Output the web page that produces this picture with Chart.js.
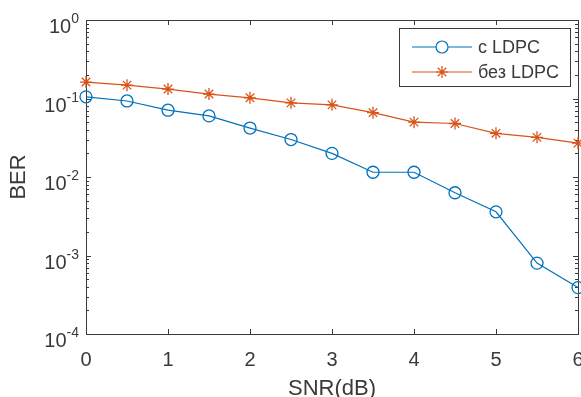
<!DOCTYPE html>
<html>
<head>
<meta charset="utf-8">
<title>BER vs SNR</title>
<script src="https://cdn.jsdelivr.net/npm/chart.js@4"></script>
<style>
  html, body { margin: 0; padding: 0; background: #ffffff; }
  #wrap { width: 581px; height: 397px; }
</style>
</head>
<body>
<div id="wrap"><canvas id="berChart" width="581" height="397"></canvas></div>
<script>
// SNR points (dB) and measured bit error rates
const snr = [0, 0.5, 1, 1.5, 2, 2.5, 3, 3.5, 4, 4.5, 5, 5.5, 6];
const berLdpc = [0.105, 0.093, 0.071, 0.060, 0.042, 0.030, 0.020, 0.0115, 0.0115, 0.0063, 0.0036, 0.00080, 0.00039];
const berNoLdpc = [0.162, 0.148, 0.132, 0.114, 0.102, 0.088, 0.083, 0.066, 0.050, 0.048, 0.036, 0.032, 0.027];
const seriesNames = ['с LDPC', 'без LDPC'];
const xTicks = [0, 1, 2, 3, 4, 5, 6];
const yDecades = [0, -1, -2, -3, -4];

const FONT = '"Liberation Sans", Arial, sans-serif';
const AXIS_COLOR = '#3a3a3a';

function toPoints(ys) {
    return snr.map((x, i) => ({ x: x, y: ys[i] }));
}

// axes box, inward ticks, tick labels, axis titles and legend in MATLAB style
const matlabAxes = {
    id: 'matlabAxes',
    beforeDatasetsDraw(chart) {
        const ctx = chart.ctx;
        const a = chart.chartArea;
        const xs = chart.scales.x;
        const ys = chart.scales.y;
        ctx.save();
        ctx.strokeStyle = AXIS_COLOR;
        ctx.lineWidth = 1;
        ctx.strokeRect(Math.round(a.left) + 0.5, Math.round(a.top) + 0.5,
            Math.round(a.right - a.left), Math.round(a.bottom - a.top));

        ctx.beginPath();
        xTicks.forEach(v => {
            const px = Math.round(xs.getPixelForValue(v)) + 0.5;
            ctx.moveTo(px, a.bottom); ctx.lineTo(px, a.bottom - 5);
            ctx.moveTo(px, a.top); ctx.lineTo(px, a.top + 5);
        });
        yDecades.forEach(k => {
            const py = Math.round(ys.getPixelForValue(Math.pow(10, k))) + 0.5;
            ctx.moveTo(a.left, py); ctx.lineTo(a.left + 5, py);
            ctx.moveTo(a.right, py); ctx.lineTo(a.right - 5, py);
            if (k > -4) {
                for (let m = 2; m <= 9; m++) {
                    const pm = Math.round(ys.getPixelForValue(m * Math.pow(10, k - 1))) + 0.5;
                    ctx.moveTo(a.left, pm); ctx.lineTo(a.left + 3, pm);
                    ctx.moveTo(a.right, pm); ctx.lineTo(a.right - 3, pm);
                }
            }
        });
        ctx.stroke();

        ctx.fillStyle = AXIS_COLOR;
        // x tick labels
        ctx.font = '20px ' + FONT;
        ctx.textAlign = 'center';
        ctx.textBaseline = 'alphabetic';
        xTicks.forEach(v => {
            ctx.fillText(String(v), xs.getPixelForValue(v), a.bottom + 32);
        });

        // y tick labels as 10 with a raised exponent
        yDecades.forEach(k => {
            const py = ys.getPixelForValue(Math.pow(10, k));
            const exp = k === 0 ? '0' : '-' + Math.abs(k);
            ctx.font = '14px ' + FONT;
            const wExp = ctx.measureText(exp).width;
            ctx.font = '20px ' + FONT;
            const wBase = ctx.measureText('10').width;
            const right = a.left - 7;
            ctx.textAlign = 'left';
            ctx.fillText('10', right - wExp - wBase, py + 13);
            ctx.font = '14px ' + FONT;
            ctx.fillText(exp, right - wExp, py + 3);
        });

        // axis titles
        ctx.font = '22px ' + FONT;
        ctx.textAlign = 'center';
        ctx.fillText('SNR(dB)', (a.left + a.right) / 2, a.bottom + 61);
        ctx.save();
        ctx.translate(25, (a.top + a.bottom) / 2);
        ctx.rotate(-Math.PI / 2);
        ctx.fillText('BER', 0, 0);
        ctx.restore();
        ctx.restore();
    },
    afterDatasetsDraw(chart) {
        const ctx = chart.ctx;
        const box = { x: 399.5, y: 28.5, w: 171, h: 58 };
        ctx.save();
        ctx.fillStyle = '#ffffff';
        ctx.fillRect(box.x, box.y, box.w, box.h);
        ctx.strokeStyle = AXIS_COLOR;
        ctx.lineWidth = 1;
        ctx.strokeRect(box.x, box.y, box.w, box.h);

        const rows = [47, 72];
        chart.data.datasets.forEach((ds, i) => {
            const y = rows[i];
            ctx.strokeStyle = ds.borderColor;
            ctx.lineWidth = ds.borderWidth;
            ctx.beginPath();
            ctx.moveTo(412, y); ctx.lineTo(472, y);
            ctx.stroke();
            Chart.helpers.drawPoint(ctx, {
                pointStyle: ds.pointStyle,
                radius: ds.pointRadius,
                borderWidth: ds.pointBorderWidth,
                rotation: 0
            }, 442, y);
            ctx.fillStyle = AXIS_COLOR;
            ctx.font = '18px ' + FONT;
            ctx.textAlign = 'left';
            ctx.textBaseline = 'middle';
            ctx.fillText(ds.label, 478, y + 1);
        });
        ctx.restore();
    }
};

const ctx = document.getElementById('berChart').getContext('2d');
new Chart(ctx, {
    type: 'line',
    data: {
        datasets: [
            {
                label: seriesNames[0],
                data: toPoints(berLdpc),
                borderColor: '#0072BD',
                backgroundColor: 'rgba(0,0,0,0)',
                borderWidth: 1.2,
                pointStyle: 'circle',
                pointRadius: 6,
                pointBorderWidth: 1.3,
                pointBorderColor: '#0072BD',
                pointBackgroundColor: 'rgba(0,0,0,0)',
                tension: 0,
                clip: false
            },
            {
                label: seriesNames[1],
                data: toPoints(berNoLdpc),
                borderColor: '#D95319',
                backgroundColor: 'rgba(0,0,0,0)',
                borderWidth: 1.2,
                pointStyle: 'star',
                pointRadius: 6,
                pointBorderWidth: 1.3,
                pointBorderColor: '#D95319',
                tension: 0,
                clip: false
            }
        ]
    },
    options: {
        responsive: false,
        animation: false,
        layout: { autoPadding: false, padding: { left: 86, right: 3, top: 20, bottom: 63 } },
        scales: {
            x: { type: 'linear', min: 0, max: 6, display: false },
            y: { type: 'logarithmic', min: 1e-4, max: 1, display: false }
        },
        plugins: {
            legend: { display: false },
            tooltip: { enabled: false }
        }
    },
    plugins: [matlabAxes]
});
</script>
</body>
</html>
